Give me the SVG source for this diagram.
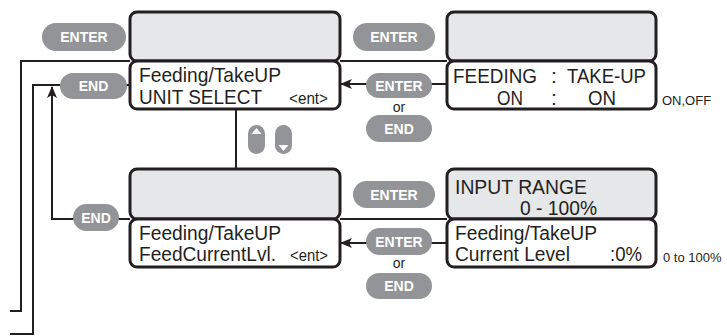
<svg xmlns="http://www.w3.org/2000/svg" width="727" height="336" viewBox="0 0 727 336">
<defs>
<style>
.gbox{fill:#e6e7e8;stroke:#231f20;stroke-width:3}
.wbox{fill:#ffffff;stroke:#231f20;stroke-width:3}
.btn{fill:#929497}
.bt{font-family:"Liberation Sans",Arial,sans-serif;font-weight:bold;font-size:14px;fill:#ffffff;text-anchor:middle}
.lcd{font-family:"Liberation Sans",Arial,sans-serif;font-size:21px;fill:#231f20}
.lcd2{font-family:"Liberation Sans",Arial,sans-serif;font-size:20px;fill:#231f20}
.sm{font-family:"Liberation Sans",Arial,sans-serif;font-size:16px;fill:#231f20}
.lab{font-family:"Liberation Sans",Arial,sans-serif;font-size:13px;fill:#231f20}
.or{font-family:"Liberation Sans",Arial,sans-serif;font-size:14px;fill:#231f20;text-anchor:middle}
.ln{fill:none;stroke:#231f20;stroke-width:2}
</style>
<marker id="ah" viewBox="0 0 12 10" refX="11" refY="5" markerWidth="12" markerHeight="10" markerUnits="userSpaceOnUse" orient="auto">
<path d="M0,0 L12,5 L0,10 L3,5 Z" fill="#231f20"/>
</marker>
</defs>

<g id="connectors">
<path class="ln" d="M130,61 H21 V311 H10"/>
<path class="ln" d="M340,61 H447"/>
<path class="ln" d="M130,85 H33 V334 H10"/>
<path class="ln" d="M130,219 H52 V87" marker-end="url(#ah)"/>
<path class="ln" d="M340,219 H447"/>
<path class="ln" d="M236,109 V169"/>
<path class="ln" d="M447,84 H341" marker-end="url(#ah)"/>
<path class="ln" d="M447,243 H341" marker-end="url(#ah)"/>
</g>

<g id="btn-enter-1"><rect class="btn" x="42" y="23" width="84" height="28" rx="14"/><text class="bt" x="84" y="42">ENTER</text></g>
<g id="btn-end-1"><rect class="btn" x="60" y="73" width="67" height="26" rx="13"/><text class="bt" x="93.5" y="91">END</text></g>
<g id="btn-enter-2"><rect class="btn" x="353" y="23" width="82" height="28" rx="14"/><text class="bt" x="394" y="42">ENTER</text></g>
<g id="btn-enter-3"><rect class="btn" x="366" y="73" width="66" height="25" rx="12.5"/><text class="bt" x="399" y="90.5">ENTER</text></g>
<text class="or" x="399" y="112">or</text>
<g id="btn-end-2"><rect class="btn" x="366" y="115" width="66" height="27" rx="13.5"/><text class="bt" x="399" y="133.5">END</text></g>
<g id="btn-end-3"><rect class="btn" x="73" y="204" width="46" height="27" rx="13.5"/><text class="bt" x="96" y="222.5">END</text></g>
<g id="btn-enter-4"><rect class="btn" x="353" y="181" width="82" height="27" rx="13.5"/><text class="bt" x="394" y="199.5">ENTER</text></g>
<g id="btn-enter-5"><rect class="btn" x="366" y="228" width="66" height="27" rx="13.5"/><text class="bt" x="399" y="246.5">ENTER</text></g>
<text class="or" x="399" y="268">or</text>
<g id="btn-end-4"><rect class="btn" x="366" y="273" width="66" height="26" rx="13"/><text class="bt" x="399" y="291">END</text></g>

<g id="btn-updown">
<rect class="btn" x="248" y="125" width="17" height="29" rx="8.5"/>
<path d="M256.5,128 L251.5,134 L261.5,134 Z" fill="#ffffff"/>
<rect class="btn" x="275" y="125" width="17" height="29" rx="8.5"/>
<path d="M283.5,151 L278.5,145 L288.5,145 Z" fill="#ffffff"/>
</g>

<g id="node-unit-select">
<rect class="gbox" x="130" y="12" width="210" height="49" rx="7"/>
<rect class="wbox" x="130" y="61" width="210" height="48" rx="7"/>
<text class="lcd" x="139" y="82" textLength="142" lengthAdjust="spacingAndGlyphs">Feeding/TakeUP</text>
<text class="lcd" x="139" y="104" textLength="123" lengthAdjust="spacingAndGlyphs">UNIT SELECT</text>
<text class="sm" x="289" y="104" textLength="39" lengthAdjust="spacingAndGlyphs">&lt;ent&gt;</text>
</g>

<g id="node-feeding-takeup">
<rect class="gbox" x="447" y="12" width="209" height="49" rx="7"/>
<rect class="wbox" x="447" y="61" width="209" height="48" rx="7"/>
<text class="lcd" x="453" y="83"><tspan textLength="84" lengthAdjust="spacingAndGlyphs">FEEDING</tspan> <tspan x="551">:</tspan> <tspan x="567" textLength="79" lengthAdjust="spacingAndGlyphs">TAKE-UP</tspan></text>
<text class="lcd" x="497" y="105"><tspan textLength="26" lengthAdjust="spacingAndGlyphs">ON</tspan> <tspan x="551">:</tspan> <tspan x="588" textLength="28" lengthAdjust="spacingAndGlyphs">ON</tspan></text>
<text class="lab" x="662" y="105">ON,OFF</text>
</g>

<g id="node-feed-current">
<rect class="gbox" x="130" y="169" width="210" height="50" rx="7"/>
<rect class="wbox" x="130" y="219" width="210" height="48" rx="7"/>
<text class="lcd2" x="139" y="240" textLength="142" lengthAdjust="spacingAndGlyphs">Feeding/TakeUP</text>
<text class="lcd2" x="139" y="261" textLength="137" lengthAdjust="spacingAndGlyphs">FeedCurrentLvl.</text>
<text class="sm" x="290" y="261" textLength="38" lengthAdjust="spacingAndGlyphs">&lt;ent&gt;</text>
</g>

<g id="node-current-level">
<rect class="gbox" x="447" y="169" width="209" height="50" rx="7"/>
<rect class="wbox" x="447" y="219" width="209" height="48" rx="7"/>
<text class="lcd2" x="455" y="194" textLength="132" lengthAdjust="spacingAndGlyphs">INPUT RANGE</text>
<text class="lcd2" x="520" y="215" textLength="77" lengthAdjust="spacingAndGlyphs">0 - 100%</text>
<text class="lcd2" x="455" y="240" textLength="142" lengthAdjust="spacingAndGlyphs">Feeding/TakeUP</text>
<text class="lcd2" x="455" y="261"><tspan textLength="115" lengthAdjust="spacingAndGlyphs">Current Level</tspan> <tspan x="610" textLength="32" lengthAdjust="spacingAndGlyphs">:0%</tspan></text>
<text class="lab" x="663" y="262">0 to 100%</text>
</g>
</svg>
